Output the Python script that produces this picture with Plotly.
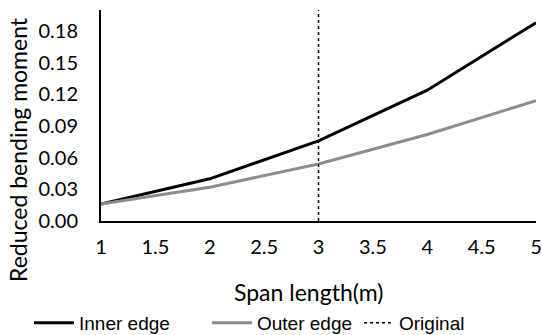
import plotly.graph_objects as go

span = [1, 2, 3, 4, 5]
inner_edge = [0.016, 0.040, 0.076, 0.124, 0.188]
outer_edge = [0.016, 0.032, 0.054, 0.082, 0.114]
original_x = [3, 3]
original_y = [0.0, 0.2]
y_ticks = [0.00, 0.03, 0.06, 0.09, 0.12, 0.15, 0.18]
x_ticks = [1, 1.5, 2, 2.5, 3, 3.5, 4, 4.5, 5]
x_title = "Span length(m)"
y_title = "Reduced bending moment"

W, H = 542, 335

fig = go.Figure()
fig.add_trace(go.Scatter(x=span, y=inner_edge, mode="lines", name="Inner edge",
                         line=dict(color="black", width=3), legend="legend"))
fig.add_trace(go.Scatter(x=span, y=outer_edge, mode="lines", name="Outer edge",
                         line=dict(color="#8c8c8c", width=3), legend="legend2"))
fig.add_trace(go.Scatter(x=original_x, y=original_y, mode="lines", name="Original",
                         line=dict(color="black", width=1.5, dash="dot"), legend="legend3"))

def leg(px, iw=40):
    return dict(orientation="h", xref="container", yref="container",
                x=px / W, y=1 - 323 / H, xanchor="left", yanchor="middle",
                font=dict(family="Liberation Sans", size=19, color="black"),
                itemwidth=iw, bgcolor="rgba(0,0,0,0)")

fig.update_layout(
    width=W, height=H,
    margin=dict(l=101, r=6, t=10, b=114, autoexpand=False),
    plot_bgcolor="white", paper_bgcolor="white",
    font=dict(family="Lato", size=20, color="black"),
    showlegend=True,
    legend=leg(29),
    legend2=leg(207),
    legend3=leg(359, 30),
    xaxis=dict(range=[1, 5], tickvals=x_ticks, ticktext=[str(t) for t in x_ticks],
               showline=True, linecolor="black", linewidth=2, showgrid=False,
               zeroline=False, ticks="", ticklabelstandoff=7, ticklabeloverflow="allow",
               automargin=False),
    yaxis=dict(range=[0, 0.2], tickvals=y_ticks, ticktext=[f"{t:.2f}" for t in y_ticks],
               showline=True, linecolor="black", linewidth=2, showgrid=False,
               zeroline=False, ticks="", ticklabelstandoff=17, automargin=False),
    annotations=[
        dict(text=x_title, xref="paper", yref="paper", x=0, y=0, xshift=207, yshift=-71,
             xanchor="center", yanchor="middle", showarrow=False, font=dict(size=23)),
        dict(text=y_title, xref="paper", yref="paper", x=0, y=0, xshift=-83, yshift=71,
             textangle=-90, xanchor="center", yanchor="middle", showarrow=False,
             font=dict(size=23)),
    ],
)

fig.write_html("out.html")
